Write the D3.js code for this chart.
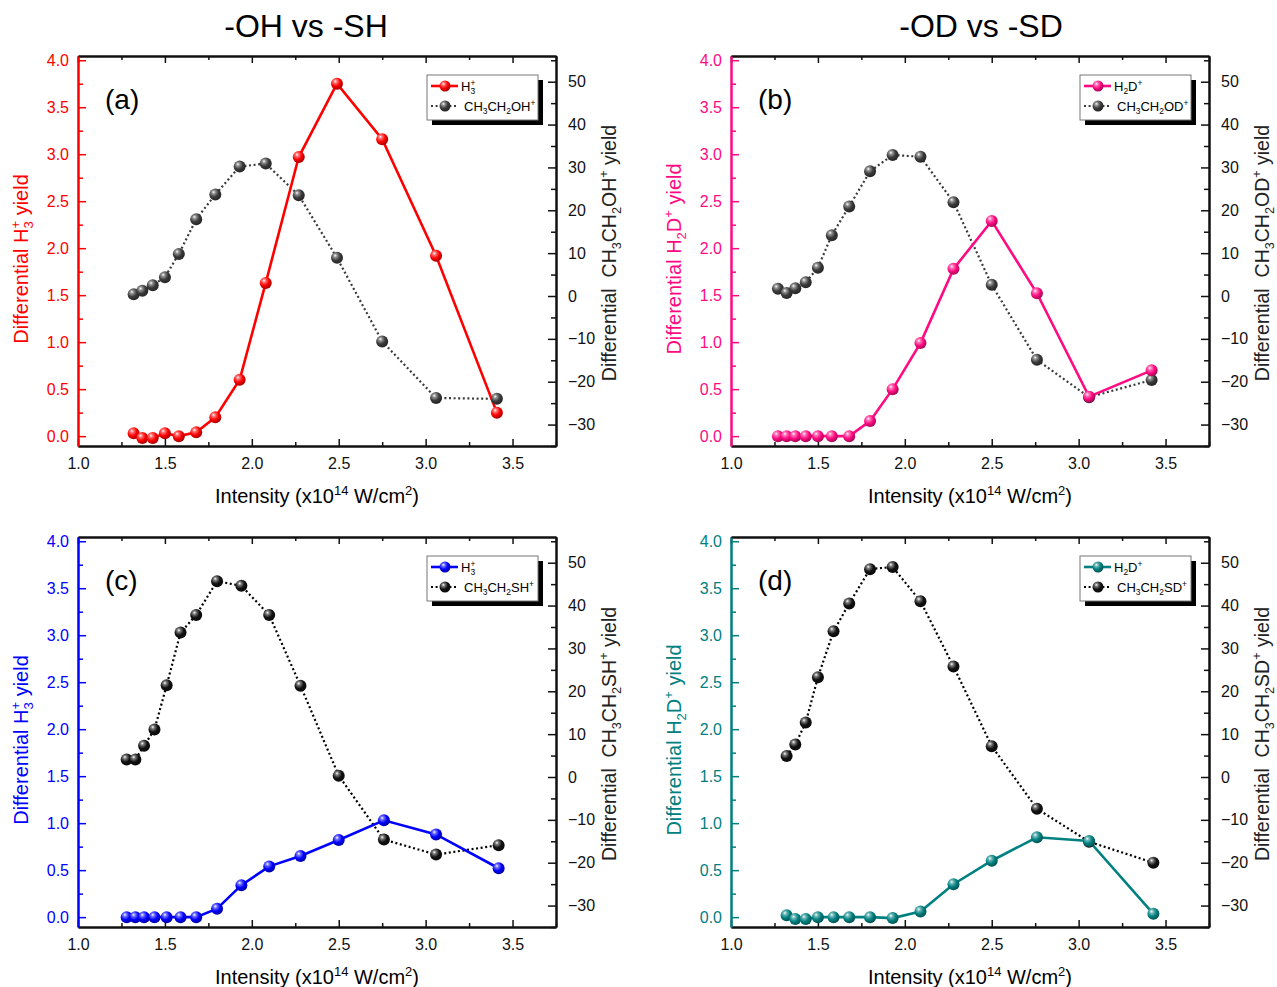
<!DOCTYPE html>
<html>
<head>
<meta charset="utf-8">
<script src="https://cdn.jsdelivr.net/npm/d3@7"></script>
<style>
  body { margin: 0; background: #fff; }
  svg { display: block; font-family: "Liberation Sans", Arial, sans-serif; }
</style>
</head>
<body>
<div class="canvas"></div>
<script>
// intensities (x10^14 W/cm^2) per panel
const xA = [1.32, 1.37, 1.43, 1.50, 1.58, 1.68, 1.79, 1.93, 2.08, 2.27, 2.49, 2.75, 3.06, 3.41];
const xB = [1.27, 1.32, 1.37, 1.43, 1.50, 1.58, 1.68, 1.80, 1.93, 2.09, 2.28, 2.50, 2.76, 3.06, 3.42];
const xC = [1.28, 1.33, 1.38, 1.44, 1.51, 1.59, 1.68, 1.80, 1.94, 2.10, 2.28, 2.50, 2.76, 3.06, 3.42];
const xD = [1.32, 1.37, 1.43, 1.50, 1.59, 1.68, 1.80, 1.93, 2.09, 2.28, 2.50, 2.76, 3.06, 3.43];

// differential ion yields, left axis
const h3A = [0.03, -0.02, -0.02, 0.03, 0.0, 0.04, 0.2, 0.6, 1.63, 2.97, 3.75, 3.16, 1.92, 0.25];
const h2dB = [0, 0, 0, 0, 0, 0, 0, 0.16, 0.5, 0.99, 1.78, 2.29, 1.52, 0.42, 0.7];
const h3C = [0, 0, 0, 0, 0, 0, 0, 0.09, 0.34, 0.54, 0.65, 0.82, 1.03, 0.88, 0.52];
const h2dD = [0.02, -0.02, -0.02, 0.0, 0.0, 0.0, 0.0, -0.01, 0.06, 0.35, 0.6, 0.85, 0.81, 0.035];

// parent ion yields, right axis
const ethA = [0.4, 1.2, 2.5, 4.4, 9.8, 17.9, 23.7, 30.2, 30.9, 23.5, 8.9, -10.6, -23.8, -24.0];
const ethB = [1.7, 0.7, 1.8, 3.2, 6.6, 14.2, 20.9, 29.1, 32.9, 32.5, 21.9, 2.6, -14.9, -23.6, -19.6];
const ethC = [4.1, 4.1, 7.3, 11.1, 21.4, 33.7, 37.8, 45.7, 44.6, 37.8, 21.3, 0.3, -14.6, -18.1, -15.9];
const ethD = [4.9, 7.6, 12.7, 23.3, 34.0, 40.5, 48.5, 49.0, 41.0, 25.8, 7.2, -7.4, -15.1, -20.0];

const xTicks = [1.0, 1.5, 2.0, 2.5, 3.0, 3.5];
const leftTicks = [0, 0.5, 1.0, 1.5, 2.0, 2.5, 3.0, 3.5, 4.0];
const rightTicks = [-30, -20, -10, 0, 10, 20, 30, 40, 50];
const titles = ["-OH vs -SH", "-OD vs -SD"];

const W = 1277, H = 987;
const dims = { width: 478, height: 390, left: 78, top: 56, dx: 653, dy: 481 };
const titleX = [306, 981];

const svg = d3.select(".canvas").append("svg").attr("width", W).attr("height", H);
const defs = svg.append("defs");

// rich text: parts are [string, kind] with kind sub / sup / stk (sup stacked over previous sub)
const rich = (sel, parts, fs) => {
  let shift = 0;
  parts.forEach(([s, kind]) => {
    let target = 0, size = fs;
    if (kind === "sub") { target = 0.26 * fs; size = 0.65 * fs; }
    if (kind === "sup" || kind === "stk") { target = -0.42 * fs; size = 0.65 * fs; }
    const t = sel.append("tspan").text(s).attr("font-size", size).attr("dy", target - shift);
    if (kind === "stk") t.attr("dx", -0.36 * fs);
    shift = target;
  });
};

const H3 = [["H"], ["3", "sub"], ["+", "stk"]];
const H2D = [["H"], ["2", "sub"], ["D"], ["+", "sup"]];
const ion = (end) => [["CH"], ["3", "sub"], ["CH"], ["2", "sub"], [end], ["+", "sup"]];

const panels = [
  { tag: "(a)", col: 0, row: 0, x: xA, y1: h3A, y2: ethA, color: "#ff0000", dark: "#3a3a3a", n1: H3, n2: ion("OH") },
  { tag: "(b)", col: 1, row: 0, x: xB, y1: h2dB, y2: ethB, color: "#ff0a82", dark: "#3a3a3a", n1: H2D, n2: ion("OD") },
  { tag: "(c)", col: 0, row: 1, x: xC, y1: h3C, y2: ethC, color: "#0000ff", dark: "#000000", n1: H3, n2: ion("SH") },
  { tag: "(d)", col: 1, row: 1, x: xD, y1: h2dD, y2: ethD, color: "#008080", dark: "#000000", n1: H2D, n2: ion("SD") }
];

// shiny sphere gradients
const sphere = (id, base) => {
  const c = d3.color(base);
  const g = defs.append("radialGradient").attr("id", id)
    .attr("cx", "38%").attr("cy", "35%").attr("r", "65%").attr("fx", "35%").attr("fy", "30%");
  g.append("stop").attr("offset", "0%").attr("stop-color", "#ffffff");
  g.append("stop").attr("offset", "22%").attr("stop-color", d3.interpolateRgb(base, "#fff")(0.45));
  g.append("stop").attr("offset", "60%").attr("stop-color", base);
  g.append("stop").attr("offset", "100%").attr("stop-color", c.darker(1.2).formatHex());
  return `url(#${id})`;
};

titles.forEach((t, i) => {
  svg.append("text")
    .attr("x", titleX[i])
    .attr("y", 37)
    .attr("text-anchor", "middle")
    .attr("font-size", 32)
    .text(t);
});

const styleAxis = (g, col, fs) => {
  g.attr("font-family", null).attr("font-size", null);
  g.select(".domain").attr("stroke", col).attr("stroke-width", 2);
  g.selectAll(".tick line").attr("stroke", col).attr("stroke-width", 1.5);
  g.selectAll(".tick text").attr("fill", col).attr("font-size", fs);
};

const range = (a, b, s) => d3.range(Math.round((b - a) / s) + 1).map((i) => +(a + i * s).toFixed(3));

panels.forEach((p, i) => {
  const left = dims.left + p.col * dims.dx;
  const top = dims.top + p.row * dims.dy;
  const g = svg.append("g").attr("transform", `translate(${left},${top})`);

  const x = d3.scaleLinear().domain([1.0, 3.75]).range([0, dims.width]);
  const y1 = d3.scaleLinear().domain([-0.105, 4.045]).range([dims.height, 0]);
  const y2 = d3.scaleLinear().domain([-35, 56]).range([dims.height, 0]);

  const fill1 = sphere(`sp1${i}`, p.color);
  const fill2 = sphere(`sp2${i}`, p.dark === "#000000" ? "#111111" : p.dark);

  // minor ticks
  const xMinor = range(1.25, 3.75, 0.5);
  const lMinor = range(0.0, 4.0, 0.25).filter((v) => !leftTicks.includes(v));
  const rMinor = range(-35, 55, 10);

  g.append("g").attr("transform", `translate(0,${dims.height})`)
    .call(d3.axisBottom(x).tickValues(xMinor).tickSize(-4).tickFormat("").tickSizeOuter(0))
    .call((a) => styleAxis(a, "#111", 16));
  g.append("g")
    .call(d3.axisTop(x).tickValues(xMinor).tickSize(-4).tickFormat("").tickSizeOuter(0))
    .call((a) => styleAxis(a, "#111", 16));
  g.append("g")
    .call(d3.axisLeft(y1).tickValues(lMinor).tickSize(-5).tickFormat("").tickSizeOuter(0))
    .call((a) => styleAxis(a, p.color, 16));
  g.append("g").attr("transform", `translate(${dims.width},0)`)
    .call(d3.axisRight(y2).tickValues(rMinor).tickSize(-5).tickFormat("").tickSizeOuter(0))
    .call((a) => styleAxis(a, "#111", 16));

  // major axes
  g.append("g").attr("transform", `translate(0,${dims.height})`)
    .call(d3.axisBottom(x).tickValues(xTicks).tickSize(-7).tickPadding(12).tickFormat(d3.format(".1f")).tickSizeOuter(0))
    .call((a) => styleAxis(a, "#111", 16));
  g.append("g")
    .call(d3.axisTop(x).tickValues(xTicks).tickSize(-7).tickFormat("").tickSizeOuter(0))
    .call((a) => styleAxis(a, "#111", 16));
  g.append("g")
    .call(d3.axisLeft(y1).tickValues(leftTicks).tickSize(-8).tickPadding(9).tickFormat(d3.format(".1f")).tickSizeOuter(0))
    .call((a) => styleAxis(a, p.color, 16));
  g.append("g").attr("transform", `translate(${dims.width},0)`)
    .call(d3.axisRight(y2).tickValues(rightTicks).tickSize(-8).tickPadding(12).tickFormat(d3.format("d")).tickSizeOuter(0))
    .call((a) => styleAxis(a, "#111", 16));

  // axis titles
  const xt = g.append("text")
    .attr("x", dims.width / 2).attr("y", dims.height + 57)
    .attr("text-anchor", "middle").attr("font-size", 20);
  rich(xt, [["Intensity (x10"], ["14", "sup"], [" W/cm"], ["2", "sup"], [")"]], 20);

  const lt = g.append("text")
    .attr("transform", `translate(-50,${dims.height / 2 + 8}) rotate(-90)`)
    .attr("text-anchor", "middle").attr("font-size", 20).attr("fill", p.color);
  rich(lt, [["Differential "]].concat(p.n1, [[" yield"]]), 20);

  const rt = g.append("text")
    .attr("transform", `translate(${dims.width + 60},${dims.height / 2 + 2}) rotate(-90)`)
    .attr("text-anchor", "middle").attr("font-size", 19.5).attr("fill", "#222");
  rich(rt, [["Differential\u00a0\u00a0"]].concat(p.n2, [[" yield"]]), 19.5);

  g.append("text").attr("x", 27).attr("y", 53).attr("font-size", 28).text(p.tag);

  // series
  const pts1 = p.x.map((v, k) => [v, p.y1[k]]);
  const pts2 = p.x.map((v, k) => [v, p.y2[k]]);

  g.append("path").datum(pts2)
    .attr("fill", "none").attr("stroke", p.dark).attr("stroke-width", 2.2)
    .attr("stroke-dasharray", "2,2.6")
    .attr("d", d3.line().x((d) => x(d[0])).y((d) => y2(d[1])));
  g.append("path").datum(pts1)
    .attr("fill", "none").attr("stroke", p.color).attr("stroke-width", 2.6)
    .attr("d", d3.line().x((d) => x(d[0])).y((d) => y1(d[1])));

  g.selectAll(".m2").data(pts2).enter().append("circle")
    .attr("cx", (d) => x(d[0])).attr("cy", (d) => y2(d[1])).attr("r", 6)
    .attr("fill", fill2);
  g.selectAll(".m1").data(pts1).enter().append("circle")
    .attr("cx", (d) => x(d[0])).attr("cy", (d) => y1(d[1])).attr("r", 6)
    .attr("fill", fill1);

  // legend
  const lg = g.append("g").attr("transform", `translate(${dims.width - 129},19)`);
  lg.append("rect").attr("x", 5).attr("y", 5).attr("width", 111).attr("height", 45).attr("fill", "#000");
  lg.append("rect").attr("width", 111).attr("height", 45).attr("fill", "#fff").attr("stroke", "#777").attr("stroke-width", 1);

  lg.append("line").attr("x1", 4).attr("x2", 31).attr("y1", 11).attr("y2", 11)
    .attr("stroke", p.color).attr("stroke-width", 2.6);
  lg.append("circle").attr("cx", 18).attr("cy", 11).attr("r", 5.5).attr("fill", fill1);
  rich(lg.append("text").attr("x", 34).attr("y", 16).attr("font-size", 13), p.n1, 13);

  lg.append("line").attr("x1", 4).attr("x2", 31).attr("y1", 31).attr("y2", 31)
    .attr("stroke", p.dark).attr("stroke-width", 2.2).attr("stroke-dasharray", "2,2.6");
  lg.append("circle").attr("cx", 18).attr("cy", 31).attr("r", 5.5).attr("fill", fill2);
  rich(lg.append("text").attr("x", 37).attr("y", 36).attr("font-size", 13), p.n2, 13);
});
</script>
</body>
</html>
